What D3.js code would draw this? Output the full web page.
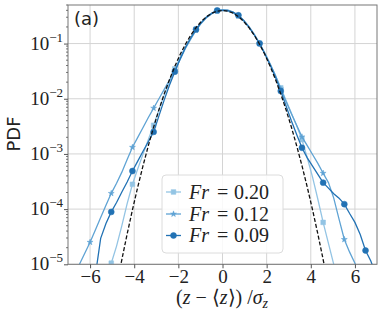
<!DOCTYPE html>
<html>
<head>
<meta charset="utf-8">
<script src="https://cdn.jsdelivr.net/npm/d3@7"></script>
<style>
html,body{margin:0;padding:0;background:#fff;}
svg{display:block;}
</style>
</head>
<body>
<svg id="chart" width="382" height="316"></svg>
<script>
// ---------------- data ----------------
const xTicks = [-6, -4, -2, 0, 2, 4, 6];
const yTicks = [1e-5, 1e-4, 1e-3, 1e-2, 1e-1];
const yTickExp = ["\u22125", "\u22124", "\u22123", "\u22122", "\u22121"];
const seriesNames = ["0.20", "0.12", "0.09"];

const xLight = [-5.52,-5.28,-5.04,-4.80,-4.56,-4.32,-4.08,-3.84,-3.60,-3.36,-3.12,-2.88,-2.64,-2.40,-2.16,-1.92,-1.68,-1.44,-1.20,-0.96,-0.72,-0.48,-0.24,0,0.24,0.48,0.72,0.96,1.20,1.44,1.68,1.92,2.16,2.40,2.64,2.88,3.12,3.36,3.60,3.84,4.08,4.32,4.56,4.80,5.04,5.28];
const yLight = [1.58e-6,3.98e-6,1.047e-5,2.14e-5,5.01e-5,1.26e-4,2.82e-4,5.37e-4,1.0e-3,1.82e-3,3.31e-3,6.31e-3,1.175e-2,2.04e-2,3.47e-2,5.62e-2,8.71e-2,0.129,0.182,0.243,0.305,0.359,0.398,0.412,0.407,0.372,0.324,0.266,0.204,0.148,0.102,6.76e-2,4.27e-2,2.63e-2,1.58e-2,9.33e-3,5.50e-3,3.24e-3,1.82e-3,8.51e-4,3.80e-4,1.51e-4,5.75e-5,2.40e-5,1.0e-5,3.98e-6];

const xMed = [-6.96,-6.72,-6.48,-6.24,-6.00,-5.76,-5.52,-5.28,-5.04,-4.80,-4.56,-4.32,-4.08,-3.84,-3.60,-3.36,-3.12,-2.88,-2.64,-2.40,-2.16,-1.92,-1.68,-1.44,-1.20,-0.96,-0.72,-0.48,-0.24,0,0.24,0.48,0.72,0.96,1.20,1.44,1.68,1.92,2.16,2.40,2.64,2.88,3.12,3.36,3.60,3.84,4.08,4.32,4.56,4.80,5.04,5.28,5.52,5.76,6.00,6.24];
const yMed = [3.55e-6,6.03e-6,1.0e-5,1.58e-5,2.51e-5,4.17e-5,7.08e-5,1.175e-4,1.93e-4,2.95e-4,4.68e-4,7.94e-4,1.32e-3,2.0e-3,3.02e-3,4.57e-3,6.76e-3,1.0e-2,1.48e-2,2.19e-2,3.24e-2,5.13e-2,8.13e-2,0.120,0.174,0.234,0.295,0.347,0.389,0.398,0.389,0.359,0.316,0.257,0.1995,0.145,0.100,6.61e-2,4.27e-2,2.63e-2,1.51e-2,8.91e-3,5.37e-3,3.31e-3,2.04e-3,1.41e-3,9.77e-4,6.76e-4,4.47e-4,3.02e-4,1.58e-4,6.61e-5,2.82e-5,1.66e-5,1.047e-5,6.31e-6];

const xDark = [-5.76,-5.52,-5.28,-5.04,-4.80,-4.56,-4.32,-4.08,-3.84,-3.60,-3.36,-3.12,-2.88,-2.64,-2.40,-2.16,-1.92,-1.68,-1.44,-1.20,-0.96,-0.72,-0.48,-0.24,0,0.24,0.48,0.72,0.96,1.20,1.44,1.68,1.92,2.16,2.40,2.64,2.88,3.12,3.36,3.60,3.84,4.08,4.32,4.56,4.80,5.04,5.28,5.52,5.76,6.00,6.24,6.48,6.72,6.96];
const yDark = [6.31e-6,2.95e-5,5.50e-5,8.91e-5,1.32e-4,2.04e-4,3.09e-4,4.90e-4,7.41e-4,1.12e-3,1.66e-3,2.51e-3,4.90e-3,9.55e-3,1.78e-2,3.09e-2,5.25e-2,8.51e-2,0.126,0.180,0.240,0.302,0.356,0.398,0.403,0.398,0.372,0.325,0.263,0.1995,0.143,0.100,6.46e-2,4.07e-2,2.45e-2,1.38e-2,7.41e-3,3.98e-3,2.24e-3,1.29e-3,8.51e-4,6.03e-4,4.27e-4,3.02e-4,2.40e-4,1.905e-4,1.58e-4,1.23e-4,8.32e-5,5.75e-5,3.47e-5,1.78e-5,1.148e-5,6.31e-6];

const xGauss = [-4.80,-4.56,-4.32,-4.08,-3.84,-3.60,-3.36,-3.12,-2.88,-2.64,-2.40,-2.16,-1.92,-1.68,-1.44,-1.20,-0.96,-0.72,-0.48,-0.24,0,0.24,0.48,0.72,0.96,1.20,1.44,1.68,1.92,2.16,2.40,2.64,2.88,3.12,3.36,3.60,3.84,4.08,4.32,4.56,4.80];
const yGauss = [3.98e-6,1.22e-5,3.54e-5,9.7e-5,2.51e-4,6.13e-4,1.41e-3,3.07e-3,6.31e-3,1.225e-2,2.24e-2,3.87e-2,6.32e-2,9.73e-2,0.1415,0.1942,0.2518,0.3079,0.3556,0.3876,0.399,0.3876,0.3556,0.3079,0.2518,0.1942,0.1415,9.73e-2,6.32e-2,3.87e-2,2.24e-2,1.225e-2,6.31e-3,3.07e-3,1.41e-3,6.13e-4,2.51e-4,9.7e-5,3.54e-5,1.22e-5,3.98e-6];

// ---------------- layout ----------------
const L = 68, R = 377, T = 5, B = 264.3;
const svg = d3.select("#chart");
const x = d3.scaleLinear().domain([-7, 7]).range([L, R]);
const y = d3.scaleLog().domain([1e-5, 0.5]).range([B, T]);

const colors = ["#93c4e4", "#5fa3d4", "#2272b4"];
const symbols = [d3.symbolSquare, d3.symbolStar, d3.symbolCircle];
const symSize = [22, 11, 28];
const series = [
  {x: xLight, y: yLight},
  {x: xMed, y: yMed},
  {x: xDark, y: yDark}
];

svg.append("defs").append("clipPath").attr("id", "clip")
  .append("rect").attr("x", L).attr("y", T).attr("width", R - L).attr("height", B - T);

// grid
const grid = svg.append("g");
grid.selectAll("line.gx").data(xTicks).join("line")
  .attr("x1", d => x(d)).attr("x2", d => x(d)).attr("y1", T).attr("y2", B)
  .attr("stroke", "#d4d4d4").attr("stroke-width", 1);
grid.selectAll("line.gy").data(yTicks).join("line")
  .attr("y1", d => y(d)).attr("y2", d => y(d)).attr("x1", L).attr("x2", R)
  .attr("stroke", "#d4d4d4").attr("stroke-width", 1);

// curves
const plot = svg.append("g").attr("clip-path", "url(#clip)");
const line = d3.line().x(d => x(d[0])).y(d => y(d[1]));

series.forEach((s, i) => {
  const pts = s.x.map((v, k) => [v, s.y[k]]);
  plot.append("path").datum(pts).attr("d", line)
    .attr("fill", "none").attr("stroke", colors[i]).attr("stroke-width", 1.3);
  const marks = pts.filter(p => {
    const n = Math.round(p[0] / 0.24);
    return (((n % 4) + 4) % 4) === 3 && p[1] >= 1e-5;
  });
  plot.selectAll(null).data(marks).join("path")
    .attr("transform", p => `translate(${x(p[0])},${y(p[1])})`)
    .attr("d", d3.symbol().type(symbols[i]).size(symSize[i]))
    .attr("fill", colors[i]).attr("stroke", colors[i]).attr("stroke-width", 0.5);
});

const gpts = xGauss.map((v, k) => [v, yGauss[k]]);
plot.append("path").datum(gpts).attr("d", line)
  .attr("fill", "none").attr("stroke", "#111").attr("stroke-width", 1.3)
  .attr("stroke-dasharray", "4,2");

// frame
svg.append("rect").attr("x", L).attr("y", T).attr("width", R - L).attr("height", B - T)
  .attr("fill", "none").attr("stroke", "#777").attr("stroke-width", 1);

// axes
const serif = "Liberation Serif";
const xAxis = svg.append("g").attr("transform", `translate(0,${B})`)
  .call(d3.axisBottom(x).tickValues(xTicks).tickSize(4).tickFormat(d => d < 0 ? "\u2212" + Math.abs(d) : String(d)));
xAxis.attr("font-family", null).attr("font-size", null);
xAxis.select(".domain").remove();
xAxis.selectAll("line").attr("stroke", "#555");
xAxis.selectAll("text").style("font-family", serif).attr("font-size", 19).attr("fill", "#222").attr("dy", "0.6em");

const minor = [];
for (let e = -5; e <= -1; e++) for (let m = 2; m <= 9; m++) { const v = m * Math.pow(10, e); if (v <= 0.5) minor.push(v); }
const yAxis = svg.append("g").attr("transform", `translate(${L},0)`)
  .call(d3.axisLeft(y).tickValues(yTicks).tickSize(4).tickFormat(() => ""));
yAxis.select(".domain").remove();
yAxis.selectAll("line").attr("stroke", "#555");
svg.append("g").selectAll("line").data(minor).join("line")
  .attr("x1", L - 2).attr("x2", L).attr("y1", d => y(d)).attr("y2", d => y(d))
  .attr("stroke", "#555").attr("stroke-width", 0.8);

const ylab = svg.append("g").selectAll("text").data(yTicks).join("text")
  .attr("x", L - 5).attr("y", d => y(d) + 6)
  .attr("text-anchor", "end").style("font-family", serif).attr("font-size", 19).attr("fill", "#222");
ylab.append("tspan").text("10");
ylab.append("tspan").attr("font-size", 13).attr("dy", -8).text((d, i) => yTickExp[i]);

// axis titles
svg.append("text").attr("transform", "translate(20,134) rotate(-90)")
  .attr("text-anchor", "middle").style("font-family", "DejaVu Sans")
  .attr("font-size", 18).attr("fill", "#222").text("PDF");

const xt = svg.append("text").attr("x", 222).attr("y", 304).attr("text-anchor", "middle")
  .style("font-family", serif).attr("font-size", 20).attr("fill", "#222");
xt.append("tspan").text("(");
xt.append("tspan").attr("font-style", "italic").text("z");
xt.append("tspan").text(" \u2212 \u27e8");
xt.append("tspan").attr("font-style", "italic").text("z");
xt.append("tspan").text("\u27e9) /");
xt.append("tspan").attr("font-style", "italic").text("\u03c3");
xt.append("tspan").attr("font-style", "italic").attr("font-size", 14).attr("dy", 4).text("z");

svg.append("text").attr("x", 74).attr("y", 25).style("font-family", "DejaVu Sans")
  .attr("font-size", 18).attr("fill", "#222").text("(a)");

// legend
const lg = svg.append("g");
lg.append("rect").attr("x", 162).attr("y", 175).attr("width", 121).attr("height", 78)
  .attr("rx", 4).attr("fill", "#fff").attr("fill-opacity", 0.85).attr("stroke", "#dcdcdc");
const rowY = [192, 214, 235.5];
seriesNames.forEach((nm, i) => {
  lg.append("line").attr("x1", 166).attr("x2", 181).attr("y1", rowY[i]).attr("y2", rowY[i])
    .attr("stroke", colors[i]).attr("stroke-width", 1.3);
  lg.append("path").attr("transform", `translate(173.5,${rowY[i]})`)
    .attr("d", d3.symbol().type(symbols[i]).size(symSize[i]))
    .attr("fill", colors[i]).attr("stroke", colors[i]).attr("stroke-width", 0.5);
  const t = lg.append("text").attr("y", rowY[i] + 6.5)
    .style("font-family", serif).attr("font-size", 20).attr("fill", "#222");
  t.append("tspan").attr("x", 189).attr("font-style", "italic").text("Fr");
  t.append("tspan").attr("x", 217).text("=");
  t.append("tspan").attr("x", 234).text(nm);
});
</script>
</body>
</html>
